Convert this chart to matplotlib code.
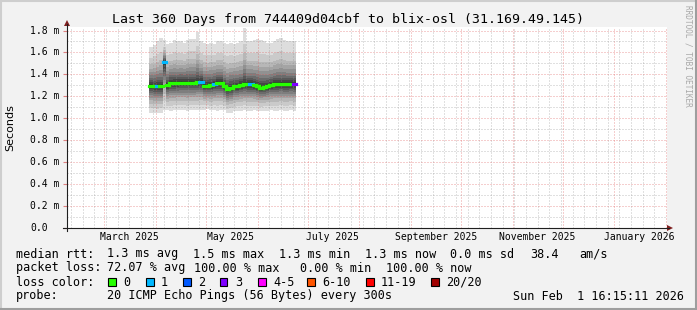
import matplotlib
matplotlib.use('Agg')
import matplotlib.pyplot as plt
import matplotlib.dates as mdates
import matplotlib.transforms as mtrans
from matplotlib.lines import Line2D
from matplotlib.patches import Polygon, Rectangle
import pandas as pd

plt.rcParams['path.simplify'] = False

W, H = 697, 310

# ---- data (ms), 2-day columns from 28 Mar 2025 ----
col_edges = pd.date_range('2025-03-28', periods=45, freq='2D')
median_ms = [1.297, 1.29, 1.29, 1.29, 1.51, 1.30, 1.32, 1.32, 1.32, 1.325,
             1.325, 1.325, 1.325, 1.325, 1.33, 1.33, 1.297, 1.297, 1.30, 1.31,
             1.32, 1.32, 1.29, 1.265, 1.28, 1.29, 1.29, 1.30, 1.31, 1.31,
             1.31, 1.30, 1.29, 1.28, 1.285, 1.29, 1.30, 1.31, 1.31, 1.31,
             1.31, 1.31, 1.31, 1.31]
smoke_top_ms = [1.65, 1.67, 1.70, 1.73, 1.71, 1.68, 1.69, 1.71, 1.70, 1.70,
                1.69, 1.71, 1.72, 1.72, 1.79, 1.70, 1.69, 1.68, 1.69, 1.68,
                1.70, 1.70, 1.69, 1.68, 1.69, 1.68, 1.69, 1.70, 1.82, 1.70,
                1.70, 1.71, 1.72, 1.71, 1.70, 1.69, 1.69, 1.70, 1.72, 1.73,
                1.71, 1.70, 1.70, 1.70]
smoke_bot_ms = [1.05, 1.05, 1.045, 1.05, 1.075, 1.075, 1.07, 1.075, 1.08, 1.075,
                1.075, 1.07, 1.075, 1.075, 1.075, 1.08, 1.08, 1.085, 1.075, 1.075,
                1.07, 1.075, 1.075, 1.05, 1.05, 1.065, 1.07, 1.07, 1.075, 1.07,
                1.07, 1.075, 1.07, 1.065, 1.07, 1.07, 1.075, 1.07, 1.07, 1.075,
                1.07, 1.07, 1.075, 1.07]
loss = [0, 0, 1, 0, 1, 0, 0, 0, 0, 0,
        0, 0, 0, 0, 0, 1, 0, 0, 0, 1,
        0, 0, 0, 0, 0, 0, 0, 0, 0, 0,
        1, 0, 0, 0, 0, 0, 0, 0, 0, 0,
        0, 0, 0, 3]
# share of the distance median->envelope reached by each smoke band (outer first)
smoke_up_frac = [1.0, 0.72, 0.55, 0.44, 0.35, 0.27, 0.2, 0.14, 0.09, 0.045]
smoke_dn_frac = [1.0, 0.82, 0.66, 0.54, 0.44, 0.36, 0.28, 0.2, 0.13, 0.06]

loss_labels = ['0', '1', '2', '3', '4-5', '6-10', '11-19', '20/20']
loss_colors = ['#26ff00', '#00b8ff', '#0059ff', '#7e00ff', '#ff00ff', '#ff5500', '#ff0000', '#a00000']


def loss_color(n):
    if n <= 3:
        return loss_colors[n]
    if n <= 5:
        return loss_colors[4]
    if n <= 10:
        return loss_colors[5]
    if n <= 19:
        return loss_colors[6]
    return loss_colors[7]


def fx(x):
    return x / W


def fy(y):
    return 1 - y / H


mono = 'DejaVu Sans Mono'
fig = plt.figure(figsize=(W / 100, H / 100), dpi=100, facecolor='#f2f2f2')
ax = fig.add_axes([fx(67), fy(228), 600 / W, 201 / H])
ax.set_facecolor('white')
t0 = pd.Timestamp('2025-02-06 16:15:11')
t1 = pd.Timestamp('2026-02-01 16:15:11')
ax.set_xlim(t0, t1)
ax.set_ylim(0, 1.832)

# smoke
edges = mdates.date2num(col_edges)
for k in range(10):
    g = int(190 / 10 * (9 - k)) + 50
    hi = [m + smoke_up_frac[k] * (t - m) for m, t in zip(median_ms, smoke_top_ms)]
    lo = [m - smoke_dn_frac[k] * (m - b) for m, b in zip(median_ms, smoke_bot_ms)]
    ax.fill_between(edges, hi + hi[-1:], lo + lo[-1:], step='post',
                    color='#%02x%02x%02x' % (g, g, g), lw=0, zorder=1)

# grid
ax.xaxis.set_major_locator(mdates.MonthLocator())
ax.xaxis.set_minor_locator(mdates.WeekdayLocator(byweekday=mdates.SU))
ax.yaxis.set_major_locator(plt.MultipleLocator(0.2))
ax.yaxis.set_minor_locator(plt.MultipleLocator(0.1))
ax.grid(which='minor', color='#8f8f8f', alpha=0.55, lw=0.72, ls=(0, (1, 2)), zorder=2)
ax.grid(which='major', color='#de4f4f', alpha=0.55, lw=0.72, ls=(0, (1, 2)), zorder=2)
ax.tick_params(axis='x', which='both', length=0, labelbottom=False)
ax.tick_params(axis='y', which='major', length=3, color='#de8080', labelleft=False)
ax.tick_params(axis='y', which='minor', length=0)
for s in ax.spines.values():
    s.set_visible(False)

# median coloured by loss (solid, on top of everything in the canvas)
cols = [loss_color(n) for n in loss]
ax.hlines(median_ms, edges[:-1], edges[1:], colors=cols, linewidths=2.3,
          linestyles='solid', capstyle='projecting', zorder=10)
same = [k for k in range(len(median_ms) - 1) if cols[k] == cols[k + 1]]
ax.vlines([edges[k + 1] for k in same], [median_ms[k] for k in same],
          [median_ms[k + 1] for k in same], colors=[cols[k] for k in same],
          linewidths=2.3, linestyles='solid', capstyle='projecting', zorder=10)

# y labels
yt = mtrans.blended_transform_factory(fig.transFigure, ax.transData)
for v in [0.0, 0.2, 0.4, 0.6, 0.8, 1.0, 1.2, 1.4, 1.6, 1.8]:
    lab = '0.0' if v == 0 else '%.1f m' % v
    ax.text(fx(30), v, lab, transform=yt, ha='left', va='center', fontsize=7, family=mono)

# x labels
xt = mtrans.blended_transform_factory(ax.transData, fig.transFigure)
for d, lab in [('2025-03-16', 'March 2025'), ('2025-05-16', 'May 2025'), ('2025-07-16', 'July 2025'),
               ('2025-09-16', 'September 2025'), ('2025-11-16', 'November 2025'),
               ('2026-01-16', 'January 2026')]:
    ax.text(pd.Timestamp(d), fy(237.5), lab, transform=xt, ha='center', va='center',
            fontsize=7, family=mono)

# axes lines and arrows
fig.add_artist(Line2D([fx(67), fx(67)], [fy(231), fy(24)], color='#1f1f1f', lw=0.8))
fig.add_artist(Line2D([fx(63), fx(669)], [fy(228), fy(228)], color='#1f1f1f', lw=0.8))
fig.add_artist(Polygon([(fx(64), fy(26)), (fx(70), fy(26)), (fx(67), fy(20))], closed=True,
                       color='#801f1f', lw=0))
fig.add_artist(Polygon([(fx(667), fy(225)), (fx(667), fy(231)), (fx(673), fy(228))], closed=True,
                       color='#801f1f', lw=0))

# titles
fig.text(fx(348), fy(19), 'Last 360 Days from 744409d04cbf to blix-osl (31.169.49.145)',
         ha='center', va='center', fontsize=9.5, family=mono)
fig.text(fx(10), fy(128), 'Seconds', rotation=90, ha='center', va='center', fontsize=8,
         family='DejaVu Sans')
fig.text(fx(688), fy(5), 'RRDTOOL / TOBI OETIKER', rotation=270, ha='center', va='top',
         fontsize=5.6, family=mono, color='#a8a8a8')

# legend
fs = 8.5
rows = [
    (254, [(16, 'median rtt:'), (107, '1.3 ms avg'), (193, '1.5 ms max'), (279, '1.3 ms min'),
           (365, '1.3 ms now'), (450, '0.0 ms sd'), (530, '38.4'), (579, 'am/s')]),
    (268, [(16, 'packet loss:'), (107, '72.07 % avg'), (194, '100.00 % max'), (300, '0.00 % min'),
           (386, '100.00 % now')]),
    (282, [(16, 'loss color:')]),
    (296, [(16, 'probe:'), (107, '20 ICMP Echo Pings (56 Bytes) every 300s'),
           (513, 'Sun Feb  1 16:15:11 2026')]),
]
for y, items in rows:
    for x, s in items:
        fig.text(fx(x), fy(y), s, ha='left', va='center', fontsize=fs, family=mono)

box_x = [108, 146, 183, 220, 258, 307, 366, 431]
for bx, lab, c in zip(box_x, loss_labels, loss_colors):
    fig.add_artist(Rectangle((fx(bx), fy(286)), 7.5 / W, 8 / H, facecolor=c,
                             edgecolor='black', lw=0.8))
    fig.text(fx(bx + 15), fy(282), lab, ha='left', va='center', fontsize=fs, family=mono)

# frame shading
fig.add_artist(Line2D([0, 1], [fy(0.5), fy(0.5)], color='#cecece', lw=1.5))
fig.add_artist(Line2D([fx(0.5), fx(0.5)], [0, 1], color='#cecece', lw=1.5))
fig.add_artist(Line2D([0, 1], [fy(309), fy(309)], color='#9e9e9e', lw=1.5))
fig.add_artist(Line2D([fx(696), fx(696)], [0, 1], color='#9e9e9e', lw=1.5))

fig.savefig('out.png', dpi=100, facecolor=fig.get_facecolor())
